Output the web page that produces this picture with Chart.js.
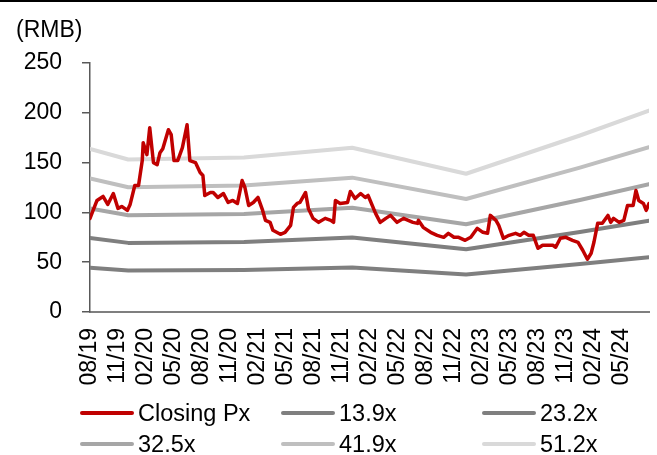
<!DOCTYPE html>
<html>
<head>
<meta charset="utf-8">
<script src="https://cdn.jsdelivr.net/npm/chart.js@4.4.1/dist/chart.umd.min.js"></script>
<style>
  html, body { margin: 0; padding: 0; background: #fff; }
  body { font-family: 'Liberation Sans', Arial, sans-serif; color: #000; }
  #wrap { position: relative; width: 657px; height: 455px; border-top: 2px solid #000; box-sizing: border-box; }
  #chart { position: absolute; left: 0; top: -2px; width: 657px; height: 455px; }
  .unit { position: absolute; left: 16px; top: 14px; font-size: 23px; }
  .legend-item { position: absolute; display: flex; align-items: center; font-size: 23.5px; height: 26px; }
  .legend-item .swatch { width: 54px; height: 4px; margin-right: 4px; border-radius: 2px; }
</style>
</head>
<body>
<div id="wrap">
  <div id="chart"><canvas id="pe"></canvas></div>
  <div class="unit">(RMB)</div>
  <div id="legend"></div>
</div>
<script>
// x axis is months since Aug 2019
const tickLabels = ['08/19', '11/19', '02/20', '05/20', '08/20', '11/20', '02/21', '05/21', '08/21', '11/21',
  '02/22', '05/22', '08/22', '11/22', '02/23', '05/23', '08/23', '11/23', '02/24', '05/24']

const priceMonths = [0.0, 0.75, 1.4, 1.9, 2.5, 3.0, 3.4, 4.0, 4.3, 4.8, 5.2, 5.6, 5.7, 6.1, 6.4, 6.8, 7.2, 7.5, 7.8, 8.4,
  8.7, 9.0, 9.4, 9.9, 10.4, 10.7, 11.3, 11.8, 12.1, 12.3, 12.9, 13.2, 13.7, 14.3, 14.8, 15.3, 15.8, 16.3, 16.6, 17.0,
  17.5, 18.0, 18.5, 18.8, 19.3, 19.6, 20.4, 20.9, 21.5, 21.8, 22.2, 22.5, 23.1, 23.4, 23.9, 24.5, 25.2, 25.8, 26.1, 26.3,
  26.8, 27.6, 27.9, 28.4, 29.0, 29.5, 29.8, 30.6, 31.1, 31.7, 32.2, 32.9, 33.6, 34.6, 35.1, 35.2, 35.7, 36.5, 37.2, 37.9,
  38.4, 39.0, 39.5, 40.2, 40.8, 41.5, 42.1, 42.6, 42.9, 43.5, 43.8, 44.3, 44.9, 45.6, 46.1, 46.5, 47.0, 47.5, 48.0, 48.5,
  49.0, 49.6, 49.9, 50.4, 51.0, 51.7, 52.3, 52.8, 53.3, 53.7, 54.0, 54.4, 54.9, 55.5, 55.8, 56.1, 56.7, 57.2, 57.6, 58.2,
  58.5, 58.8, 59.3, 59.6, 59.9]
const priceValues = [94, 112, 116, 108, 119, 104, 106, 102, 108, 127, 127, 152, 170, 158, 185, 150, 148, 160, 164, 183,
  178, 152, 152, 165, 188, 152, 150, 140, 137, 117, 120, 120, 115, 119, 110, 112, 109, 132, 125, 107,
  110, 115, 102, 92, 90, 82, 78, 80, 87, 105, 109, 110, 120, 104, 94, 90, 94, 92, 90, 112,
  109, 110, 121, 114, 119, 115, 117, 99, 90, 94, 97, 90, 94, 90, 89, 92, 85, 80, 77, 75,
  79, 75, 75, 72, 75, 84, 80, 79, 97, 92, 87, 74, 77, 79, 77, 80, 77, 77, 64, 67,
  67, 67, 65, 74, 75, 72, 70, 62, 53, 59, 70, 89, 89, 97, 90, 94, 90, 92, 107, 107,
  122, 112, 109, 102, 109]

// PE band turning points (months) and band levels
const bandMonths = [0, 4.1, 16.5, 28.1, 40.3, 52.5, 59.9]
const band139 = [44.5, 41.6, 42.1, 44.8, 37.7, 48.1, 54.9]
const band232 = [74.2, 69.4, 70.3, 74.7, 62.9, 80.3, 91.6]
const band325 = [104.0, 97.2, 98.5, 104.7, 88.1, 112.5, 128.4]
const band419 = [134.1, 125.3, 127.0, 134.9, 113.5, 145.0, 165.5]
const band512 = [163.8, 153.1, 155.1, 164.9, 138.8, 177.2, 202.2]

const seriesNames = ['Closing Px', '13.9x', '23.2x', '32.5x', '41.9x', '51.2x']
const seriesColors = ['#C00000', '#7F7F7F', '#7F7F7F', '#A6A6A6', '#BFBFBF', '#D9D9D9']

const toPoints = (xs, ys) => xs.map((x, i) => ({ x, y: ys[i] }))

const seriesData = [
  toPoints(priceMonths, priceValues),
  toPoints(bandMonths, band139),
  toPoints(bandMonths, band232),
  toPoints(bandMonths, band325),
  toPoints(bandMonths, band419),
  toPoints(bandMonths, band512),
]

const FONT = "'Liberation Sans', Arial, sans-serif"

new Chart(document.getElementById('pe'), {
  type: 'line',
  data: {
    datasets: seriesData.map((data, i) => ({
      label: seriesNames[i],
      data,
      borderColor: seriesColors[i],
      borderWidth: i === 0 ? 3.5 : 4,
      pointRadius: 0,
      tension: 0,
      borderCapStyle: 'round',
      borderJoinStyle: 'round',
    })),
  },
  options: {
    responsive: true,
    maintainAspectRatio: false,
    animation: false,
    layout: { padding: { top: 63, right: 8, bottom: 0, left: 0 } },
    plugins: { legend: { display: false }, tooltip: { enabled: false } },
    scales: {
      x: {
        type: 'linear',
        min: 0,
        max: 59.9,
        afterFit: (scale) => { scale.height = 143 },
        grid: { display: false, drawTicks: true, tickLength: 14 },
        border: { display: true, color: '#7F7F7F', width: 2 },
        ticks: {
          stepSize: 3,
          includeBounds: false,
          autoSkip: false,
          minRotation: 90,
          maxRotation: 90,
          padding: 2,
          color: '#000',
          font: { family: FONT, size: 23 },
          callback: (value) => tickLabels[Math.round(value / 3)],
        },
      },
      y: {
        min: 0,
        max: 250,
        afterFit: (scale) => { scale.width = 90 },
        grid: { display: true, drawOnChartArea: false, drawTicks: true, tickLength: 8, color: '#595959', lineWidth: 1.5 },
        border: { display: true, color: '#595959', width: 1.5 },
        ticks: {
          stepSize: 50,
          padding: 20,
          color: '#000',
          font: { family: FONT, size: 23 },
        },
      },
    },
  },
})

// legend laid out in a 3 x 2 grid like the original
const legendCols = [80, 281, 482]
const legendRows = [398, 429]
const legend = document.getElementById('legend')
seriesNames.forEach((name, i) => {
  const item = document.createElement('div')
  item.className = 'legend-item'
  item.style.left = legendCols[i % 3] + 'px'
  item.style.top = legendRows[Math.floor(i / 3)] + 'px'
  item.innerHTML = `<span class="swatch" style="background:${seriesColors[i]}"></span><span>${name}</span>`
  legend.appendChild(item)
})
</script>
</body>
</html>
